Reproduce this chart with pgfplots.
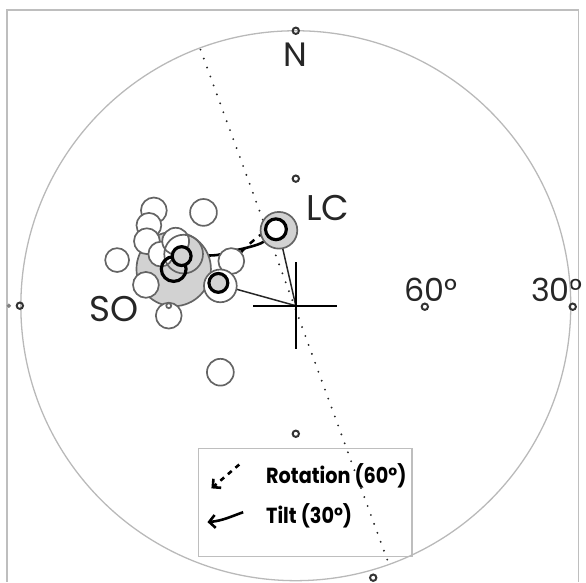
\documentclass[border=0pt]{standalone}
\usepackage{fontspec}
\setmainfont{Poppins}
\newfontfamily\legfont{Poppins}[FakeStretch=0.88]
\usepackage{pgfplots}
\usepackage{pgfplotstable}
\pgfplotsset{compat=1.18}
\usetikzlibrary{arrows.meta}

\definecolor{framegray}{RGB}{190,190,190}
\definecolor{ringgray}{RGB}{185,185,185}
\definecolor{circgray}{RGB}{100,100,100}
\definecolor{fillgray}{RGB}{210,210,210}

% small tick circles on the net
\pgfplotstableread{
x y
0 277
0 128
0 -129
78 -274
-278 0
130 -1
279 -1
}\ticks

\pgfplotsset{
  site/.style={only marks, mark=*, mark size=#1,
    mark options={draw=circgray, fill=white, line width=1.7pt}},
}

\begin{document}
\begin{tikzpicture}
\begin{axis}[
  x=1pt, y=1pt,
  xmin=-298, xmax=286, ymin=-278, ymax=308,
  scale only axis, hide axis, clip=false,
]
% extent of the picture
\addplot[draw=none] coordinates {(-298,-278) (286,308)};
% frame
\addplot[framegray, line width=1.3pt] coordinates {(-291,-278) (-291,298) (285,298) (285,-278)};
% primitive circle
\addplot[only marks, mark=o, mark size=277, mark options={draw=ringgray, line width=1.3pt}] coordinates {(0,0)};
% great circle (dotted)
\addplot[black!85, line width=2.1pt, dash pattern=on 0pt off 9.6pt, line cap=round] coordinates {(-96,258) (94,-261)};
% tick circles
\addplot[only marks, mark=o, mark size=3.2, mark options={draw=black!80, line width=2pt}] table {\ticks};
\addplot[only marks, mark=*, mark size=2, mark options={draw=gray, fill=gray}] coordinates {(-289,0)};
% SO mean cone
\addplot[only marks, mark=*, mark size=37.5, mark options={draw=circgray, fill=fillgray, line width=1.7pt}] coordinates {(-123,37)};
% LC cone
\addplot[only marks, mark=*, mark size=18.5, mark options={draw=circgray, fill=fillgray, line width=1.7pt}] coordinates {(-17,76)};
% individual sites (radius in px)
\addplot[site=13]   coordinates {(-143,96)};
\addplot[site=12.5] coordinates {(-148,81)};
\addplot[site=13]   coordinates {(-150,65)};
\addplot[site=12]   coordinates {(-180,46)};
\addplot[site=12.5] coordinates {(-136,52)};
\addplot[site=13.5] coordinates {(-121,65)};
\addplot[site=13.5] coordinates {(-93,94)};
\addplot[site=13]   coordinates {(-151,21)};
\addplot[site=13]   coordinates {(-128,-10)};
\addplot[site=13]   coordinates {(-65,45)};
\addplot[site=16.5] coordinates {(-76,20)};
\addplot[site=13.5] coordinates {(-76,-67)};
\addplot[only marks, mark=o, mark size=19.5, mark options={draw=circgray, line width=1.7pt}] coordinates {(-113,52)};
\addplot[site=2.5] coordinates {(-128,0)};
% thin lines from the centre
\addplot[black!85, line width=1.5pt] coordinates {(-16,70) (0,0) (-108,30)};
% bold means
\addplot[only marks, mark=o, mark size=12.5, mark options={draw=black, line width=3.2pt}] coordinates {(-123,37)};
\addplot[only marks, mark=*, mark size=9.5, mark options={draw=black, fill=fillgray, line width=3.2pt}] coordinates {(-115,50) (-78,23)};
\addplot[only marks, mark=*, mark size=10.5, mark options={draw=black, fill=white, line width=3.2pt}] coordinates {(-20,77)};
% tilt path
\addplot[black, line width=2.6pt, smooth, -{Straight Barb[length=5pt,width=11pt]}] coordinates {(-20,73) (-35,63) (-51,58) (-65,55) (-80,51) (-110,50)};
% rotation path
\addplot[black, line width=2.5pt, smooth, dash pattern=on 6pt off 6pt, -{Straight Barb[length=5pt,width=10pt]}] coordinates {(-22,80) (-36,71) (-48,61) (-58,51) (-64,45)};
% reference cross
\addplot[black, line width=2.3pt] coordinates {(-43,0) (42,0)};
\addplot[black, line width=2.3pt] coordinates {(0,44) (0,-44)};
% labels
\node[font=\fontsize{34}{34}\selectfont, text=black!85] at (axis cs:0,253) {N};
\node[font=\fontsize{36}{36}\selectfont, text=black!85] at (axis cs:32,98) {LC};
\node[font=\fontsize{36}{36}\selectfont, text=black!85] at (axis cs:-183,-3) {SO};
\node[font=\fontsize{32}{32}\selectfont, text=black!85] at (axis cs:136,16) {60°};
\node[font=\fontsize{32}{32}\selectfont, text=black!85] at (axis cs:263,16) {30°};
% legend
\draw[framegray, line width=1.3pt] (axis cs:-98,-144) rectangle (axis cs:117,-253);
\draw[black, line width=2.6pt, dash pattern=on 5pt off 5pt, -{Straight Barb[length=6pt,width=12pt]}] (axis cs:-57,-160) -- (axis cs:-85,-184);
\draw[black, line width=2.6pt, -{Straight Barb[length=6pt,width=13pt]}] (axis cs:-53,-208) to[out=200,in=5] (axis cs:-89,-218);
\node[anchor=west, font=\legfont\bfseries\fontsize{22}{22}\selectfont, inner sep=0pt] at (axis cs:-30,-171) {Rotation (60°)};
\node[anchor=west, font=\legfont\bfseries\fontsize{22}{22}\selectfont, inner sep=0pt] at (axis cs:-30,-212) {Tilt (30°)};
\end{axis}
\end{tikzpicture}
\end{document}
